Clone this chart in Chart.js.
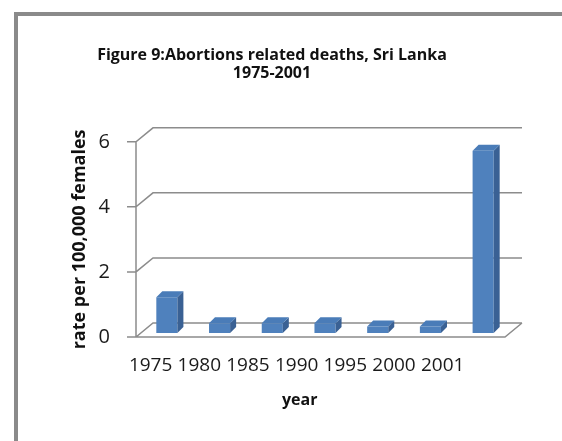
<!DOCTYPE html>
<html>
<head>
<meta charset="utf-8">
<script src="https://cdn.jsdelivr.net/npm/chart.js@4.4.1/dist/chart.umd.min.js"></script>
<style>
  html, body { margin:0; padding:0; background:#fff; overflow:hidden; }
  #frame { position:absolute; left:14px; top:12px; width:620px; height:500px; border:4px solid #8a8a8a; }
  #chart { position:absolute; left:0; top:0; }
</style>
</head>
<body>
<div id="frame"></div>
<canvas id="chart" width="562" height="441"></canvas>
<script>
// data
const years = ["1975", "1980", "1985", "1990", "1995", "2000", "2001"];
const deathRate = [1.1, 0.3, 0.3, 0.3, 0.2, 0.2, 5.6];
const yTicks = [0, 2, 4, 6];

const FONT = "'Open Sans', 'Liberation Sans', sans-serif";
const GRID = "#8c8c8c";

// back wall / floor offset and bar depth
const WALL_DX = 17, WALL_DY = 14;
const BAR_SHIFT_X = 4.5, BAR_SHIFT_Y = -4;
const DEPTH = 6;

const fake3d = {
  id: "fake3d",
  beforeDatasetsDraw(chart) {
    const { ctx, chartArea: a, scales: { y } } = chart;
    ctx.save();
    ctx.strokeStyle = GRID;
    ctx.lineWidth = 1.5;
    ctx.beginPath();
    yTicks.forEach(v => {
      const py = y.getPixelForValue(v);
      ctx.moveTo(a.left - 9, py);
      ctx.lineTo(a.left, py);
      ctx.lineTo(a.left + WALL_DX, py - WALL_DY);
      ctx.lineTo(a.right + WALL_DX, py - WALL_DY);
    });
    // floor front edge and right side
    const p0 = y.getPixelForValue(0);
    ctx.moveTo(a.left, p0);
    ctx.lineTo(a.right, p0);
    ctx.lineTo(a.right + WALL_DX, p0 - WALL_DY);
    // front value axis
    ctx.moveTo(a.left, y.getPixelForValue(6));
    ctx.lineTo(a.left, p0);
    ctx.stroke();
    ctx.restore();
  },
  beforeDatasetDraw(chart) {
    chart.ctx.save();
    chart.ctx.translate(BAR_SHIFT_X, BAR_SHIFT_Y);
  },
  afterDatasetDraw(chart, args) {
    const ctx = chart.ctx;
    args.meta.data.forEach(bar => {
      const { x, y, base, width } = bar.getProps(["x", "y", "base", "width"], true);
      const l = x - width / 2, r = x + width / 2;
      ctx.fillStyle = "#3a6194";
      ctx.beginPath();
      ctx.moveTo(r, y);
      ctx.lineTo(r + DEPTH, y - DEPTH);
      ctx.lineTo(r + DEPTH, base - DEPTH);
      ctx.lineTo(r, base);
      ctx.closePath();
      ctx.fill();
      ctx.fillStyle = "#4a7cb8";
      ctx.beginPath();
      ctx.moveTo(l, y);
      ctx.lineTo(l + DEPTH, y - DEPTH);
      ctx.lineTo(r + DEPTH, y - DEPTH);
      ctx.lineTo(r, y);
      ctx.closePath();
      ctx.fill();
    });
    ctx.restore();
  }
};

new Chart(document.getElementById("chart"), {
  type: "bar",
  data: {
    labels: years,
    datasets: [{
      label: "rate",
      data: deathRate,
      backgroundColor: "#4f81bd",
      borderWidth: 0,
      barPercentage: 0.4,
      categoryPercentage: 1
    }]
  },
  options: {
    responsive: false,
    animation: false,
    devicePixelRatio: 1,
    layout: { padding: { left: 0, right: 18, top: 0, bottom: 0 } },
    plugins: {
      legend: { display: false },
      tooltip: { enabled: false },
      title: {
        display: true,
        text: ["Figure 9:Abortions related deaths, Sri Lanka", "1975-2001"],
        color: "#111",
        font: { family: FONT, size: 16, weight: "bold", lineHeight: 1.15 },
        padding: { top: 46, bottom: 59 }
      }
    },
    scales: {
      // category axis that places the bars
      x: { display: false },
      // label axis: the year labels sit on the front edge, a bit tighter than the bars
      xl: {
        type: "linear",
        position: "bottom",
        offset: false,
        min: -0.3,
        max: 7.28,
        grid: { display: false, offset: false },
        border: { display: false },
        ticks: {
          stepSize: 1,
          includeBounds: false,
          autoSkip: false,
          maxRotation: 0,
          color: "#1a1a1a",
          font: { family: FONT, size: 19 },
          padding: 9,
          callback: v => years[v] ?? ""
        },
        title: {
          display: true,
          text: "year" + "\u00a0".repeat(10),
          color: "#111",
          font: { family: FONT, size: 16, weight: "bold", lineHeight: 1.2 },
          padding: { top: 0, bottom: 31 }
        },
        afterFit: s => { s.height = 104; }
      },
      y: {
        min: 0,
        max: 6,
        grid: { display: false },
        border: { display: false },
        ticks: {
          stepSize: 2,
          color: "#1a1a1a",
          font: { family: FONT, size: 20 },
          padding: 18
        },
        title: {
          display: true,
          text: "rate per 100,000 females",
          color: "#111",
          font: { family: FONT, size: 18, weight: "bold", lineHeight: 1.2 },
          padding: { top: 69, bottom: 0 }
        },
        afterFit: s => { s.width = 136; }
      },
      // empty right axis, only keeps the plot narrower than the title box
      yr: {
        position: "right",
        grid: { display: false },
        border: { display: false },
        ticks: { display: false },
        afterFit: s => { s.width = 39; }
      }
    }
  },
  plugins: [fake3d]
});
</script>
</body>
</html>
